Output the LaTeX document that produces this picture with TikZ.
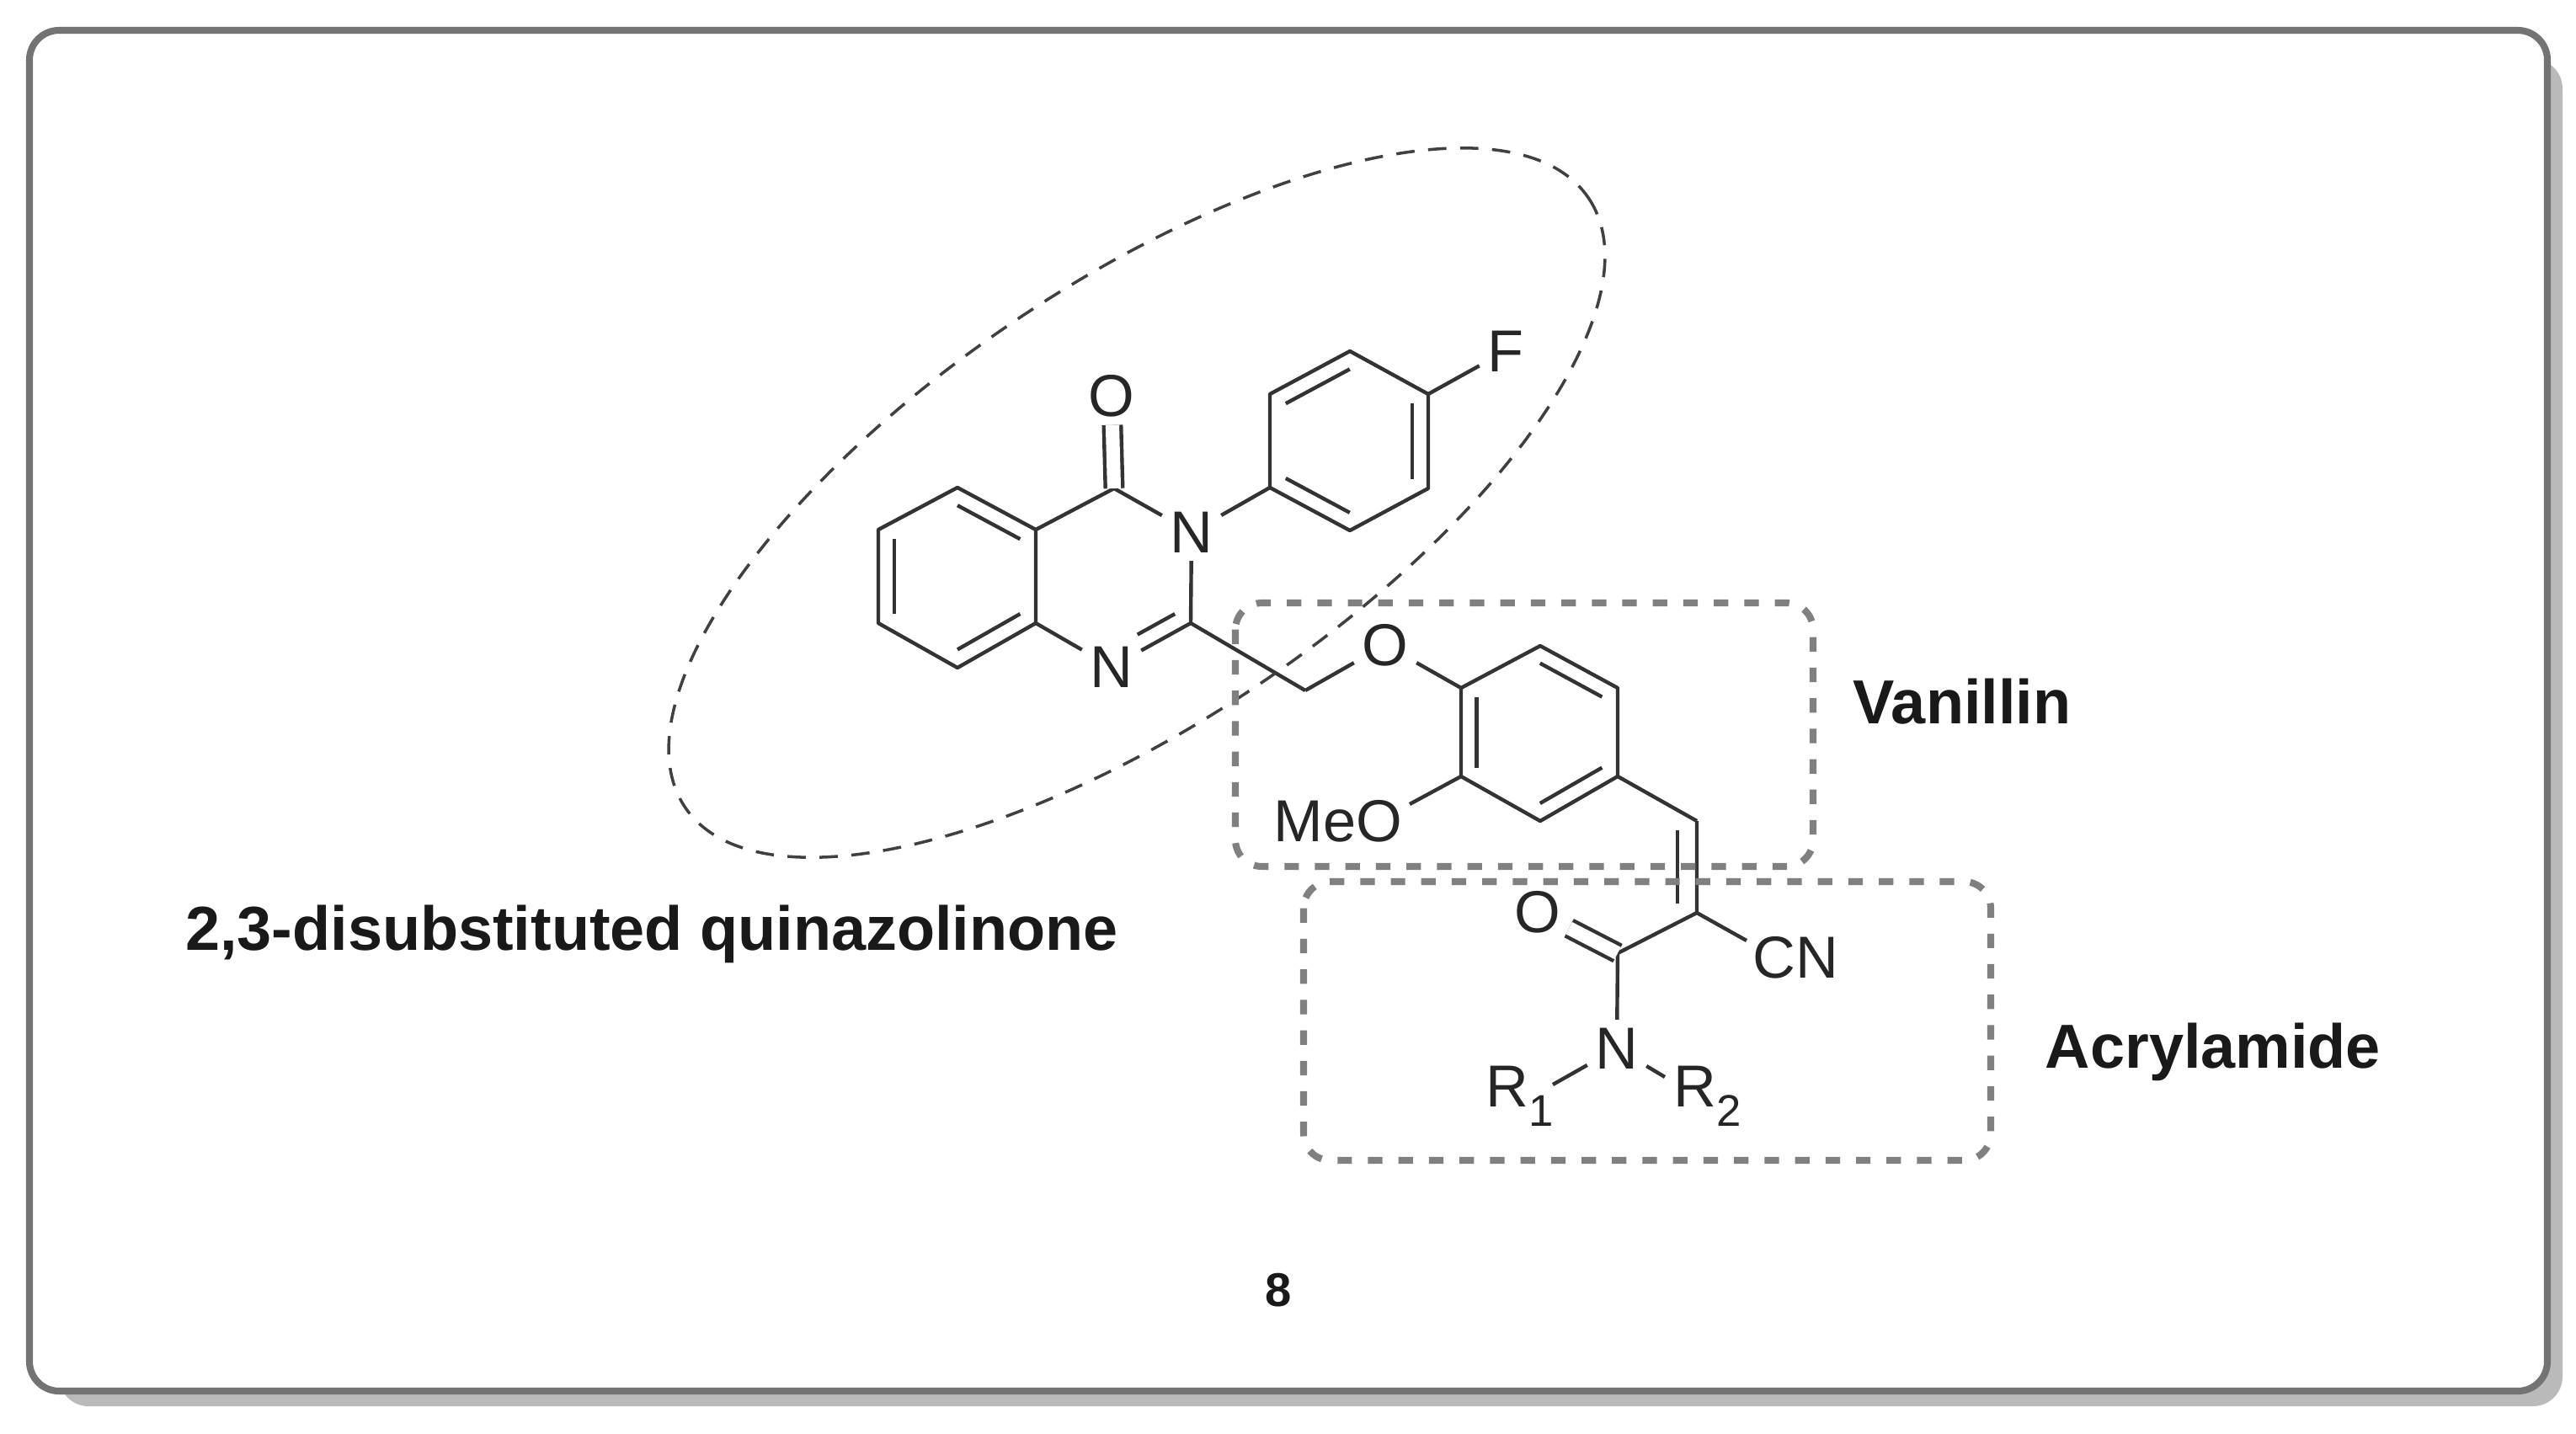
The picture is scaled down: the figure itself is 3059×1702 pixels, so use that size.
\documentclass[tikz,border=0pt]{standalone}
\usepackage{fontspec}
\setmainfont{Liberation Sans}
\usetikzlibrary{
		calc,
		positioning
	}
\definecolor{boxgray}{HTML}{808080}
\definecolor{bondgray}{HTML}{333333}
\tikzset{
		bond/.style={line width=1.25pt, color=bondgray},
		dbl/.style={bond, double, double distance=4.6pt},
		atom/.style={inner sep=2.6pt, text=black!85, font=\fontsize{20}{20}\selectfont},
		caption/.style={inner sep=0pt, font=\fontsize{21}{22}\selectfont\bfseries, text=black!90},
		groupbox/.style={line width=2.3pt, color=boxgray, dash pattern=on 4.9pt off 5.4pt, rounded corners=9pt},
		groupring/.style={line width=1pt, color=black!75, dash pattern=on 6.2pt off 4.6pt}
	}
\newcommand{\innerbond}[4][]{\draw[bond,#1] ($(#2)!.2!(#4)$) -- ($(#3)!.2!(#4)$);}
\newcommand{\rsub}[1]{\raisebox{-.32em}{\fontsize{15}{15}\selectfont #1}}

\begin{document}
\begin{tikzpicture}[x=.01cm, y=-.01cm] % one unit = one pixel of the reference, y going down
		\useasboundingbox (0,0) rectangle (3059,1702);
		% the frame and its shadow
		\fill[black!27, rounded corners=10pt] (70,70) rectangle (3043,1670);
		\draw[line width=2.3pt, black!55, fill=white, rounded corners=10pt] (35,36) rectangle (3025,1652);
		% benzene ring
		\foreach \name/\pos in {a1/{1137,579}, a2/{1230,629}, a3/{1230,740}, a4/{1137,793}, a5/{1043,740}, a6/{1043,629}, ac/{1137,685}, pc/{1320,685},
		  b1/{1603,417}, b2/{1696,468}, b3/{1696,580}, b4/{1603,630}, b5/{1508,579}, b6/{1508,468}, bc/{1602,524},
		  c1/{1829,767}, c2/{1921,817}, c3/{1921,922}, c4/{1829,975}, c5/{1735,922}, c6/{1735,817}, cc/{1828,870},
		  co/{1323,580}, cn2/{1414,740}, ch2/{1550,820}, vc1/{2015,975}, vc2/{2015,1084}, vcc/{1900,1030}, am/{1921,1132},
		  meoend/{1674,955}, cnend/{2074,1117}, rone/{1844,1288}, rtwo/{1977,1279}}
		  \coordinate (\name) at (\pos);
		% atoms
		\node[atom] (o4) at (1320,470) {O};
		\node[atom] (n3) at (1415,632) {N};
		\node[atom] (n1) at (1320,792) {N};
		\node[atom] (f) at (1788,417) {F};
		\node[atom] (oe) at (1645,766) {O};
		\node[atom] (meo) at (1589,975) {MeO};
		\node[atom] (oa) at (1826,1083) {O};
		\node[atom] (cn) at (2132,1137) {CN};
		\node[atom] (na) at (1920,1245) {N};
		\node[atom] (r1) at (1805,1302) {R\rsub{1}};
		\node[atom] (r2) at (2028,1302) {R\rsub{2}};
		% bonds
		\draw[bond, line join=round] (a6) -- (a1) -- (a2) -- (a3) -- (a4) -- (a5) -- cycle;
		\draw[bond, line join=round] (b1) -- (b2) -- (b3) -- (b4) -- (b5) -- (b6) -- cycle;
		\draw[bond, line join=round] (c1) -- (c2) -- (c3) -- (c4) -- (c5) -- (c6) -- cycle;
		\draw[bond] (a2) -- (co) (co) -- (n3) (n3) -- (cn2) (cn2) -- (n1) (n1) -- (a3);
		\draw[bond] (n3) -- (b5) (b2) -- (f) (cn2) -- (ch2) (ch2) -- (oe) (oe) -- (c6);
		\draw[bond] (c5) -- (meoend) (c3) -- (vc1) (vc1) -- (vc2) (vc2) -- (am) (vc2) -- (cnend) (am) -- (na);
		\draw[bond] (na) -- (rone) (na) -- (rtwo);
		\draw[dbl] (co) -- (o4);
		\draw[dbl] (am) -- (oa);
		% inner lines of the double bonds
		\innerbond{a1}{a2}{ac} \innerbond{a6}{a5}{ac} \innerbond{a3}{a4}{ac}
		\innerbond{b6}{b1}{bc} \innerbond{b2}{b3}{bc} \innerbond{b5}{b4}{bc}
		\innerbond{c1}{c2}{cc} \innerbond{c6}{c5}{cc} \innerbond{c3}{c4}{cc}
		\innerbond[shorten >=10pt]{cn2}{n1}{pc}
		\innerbond{vc1}{vc2}{vcc}
		% the three groups
		\draw[groupring, rotate around={34:(1350,597)}] (1350,597) ellipse (647 and 260);
		\draw[groupbox] (1467,716) rectangle (2153,1029);
		\draw[groupbox] (1548,1047) rectangle (2364,1378);
		% captions
		\node[caption] (quin) at (774,1109) {2,3-disubstituted quinazolinone};
		\node[caption] (van) at (2330,833) {Vanillin};
		\node[caption] (acr) at (2628,1249) {Acrylamide};
		\node[caption, font=\fontsize{16}{16}\selectfont\bfseries] (num) at (1518,1532) {8};
	\end{tikzpicture}
\end{document}
